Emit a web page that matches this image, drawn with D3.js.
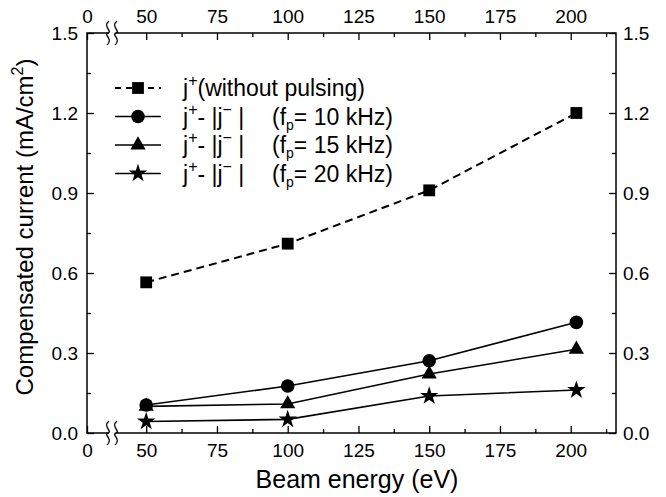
<!DOCTYPE html>
<html>
<head>
<meta charset="utf-8">
<script src="https://cdn.jsdelivr.net/npm/d3@7"></script>
<style>
  body { margin: 0; background: #fff; }
  text { font-family: "Liberation Sans", Arial, sans-serif; fill: #000; }
</style>
</head>
<body>
<svg width="666" height="497"></svg>
<script>
// data
var energy = [50, 100, 150, 202];
var noPulse = [0.565, 0.71, 0.91, 1.20];
var f10 = [0.105, 0.176, 0.271, 0.415];
var f15 = [0.10, 0.109, 0.221, 0.314];
var f20 = [0.043, 0.051, 0.139, 0.161];

var xMajor = [0, 50, 75, 100, 125, 150, 175, 200];
var xMinor = [62.5, 87.5, 112.5, 137.5, 162.5, 187.5, 212.5];
var yMajor = [0, 0.3, 0.6, 0.9, 1.2, 1.5];
var yMinor = [0.15, 0.45, 0.75, 1.05, 1.35];

var series = [
  {values: noPulse, symbol: d3.symbolSquare, size: 140, dash: "8,5", fp: null},
  {values: f10, symbol: d3.symbolCircle, size: 145, dash: null, fp: "10"},
  {values: f15, symbol: d3.symbolTriangle, size: 100, dash: null, fp: "15"},
  {values: f20, symbol: d3.symbolStar, size: 105, dash: null, fp: "20"}
];

var svg = d3.select("svg");
var pLeft = 87, pRight = 616, pTop = 33, pBottom = 433;

// broken x axis: 0..50 compressed
var x = d3.scaleLinear().domain([0, 50, 216]).range([pLeft, 146.2, pRight]);
var y = d3.scaleLinear().domain([0, 1.5]).range([pBottom, pTop]);

var fmtY = d3.format(".1f");

function axisStyle(g) {
  g.select(".domain").remove();
  g.selectAll("line").attr("stroke", "#000").attr("stroke-width", 1.3);
  g.selectAll("text").style("font-size", "19px");
}

// major ticks
svg.append("g").attr("transform", "translate(0," + pBottom + ")")
  .call(d3.axisBottom(x).tickValues(xMajor).tickSizeInner(-7).tickSizeOuter(0).tickPadding(11))
  .call(axisStyle);
svg.append("g").attr("transform", "translate(0," + pTop + ")")
  .call(d3.axisTop(x).tickValues(xMajor).tickSizeInner(-7).tickSizeOuter(0).tickPadding(10))
  .call(axisStyle);
svg.append("g").attr("transform", "translate(" + pLeft + ",0)")
  .call(d3.axisLeft(y).tickValues(yMajor).tickFormat(fmtY).tickSizeInner(-7).tickSizeOuter(0).tickPadding(9))
  .call(axisStyle);
svg.append("g").attr("transform", "translate(" + pRight + ",0)")
  .call(d3.axisRight(y).tickValues(yMajor).tickFormat(fmtY).tickSizeInner(-7).tickSizeOuter(0).tickPadding(7))
  .call(axisStyle);

// minor ticks
svg.append("g").attr("transform", "translate(0," + pBottom + ")")
  .call(d3.axisBottom(x).tickValues(xMinor).tickSizeInner(-4).tickSizeOuter(0).tickFormat(""))
  .call(axisStyle);
svg.append("g").attr("transform", "translate(0," + pTop + ")")
  .call(d3.axisTop(x).tickValues(xMinor).tickSizeInner(-4).tickSizeOuter(0).tickFormat(""))
  .call(axisStyle);
svg.append("g").attr("transform", "translate(" + pLeft + ",0)")
  .call(d3.axisLeft(y).tickValues(yMinor).tickSizeInner(-4).tickSizeOuter(0).tickFormat(""))
  .call(axisStyle);
svg.append("g").attr("transform", "translate(" + pRight + ",0)")
  .call(d3.axisRight(y).tickValues(yMinor).tickSizeInner(-4).tickSizeOuter(0).tickFormat(""))
  .call(axisStyle);

// frame
svg.append("rect")
  .attr("x", pLeft).attr("y", pTop)
  .attr("width", pRight - pLeft).attr("height", pBottom - pTop)
  .attr("fill", "none").attr("stroke", "#000").attr("stroke-width", 1.5);

// axis break marks
[pTop, pBottom].forEach(function(yy) {
  svg.append("rect").attr("x", 109).attr("y", yy - 3).attr("width", 7).attr("height", 6).attr("fill", "#fff");
  [108, 116].forEach(function(xx) {
    svg.append("path")
      .attr("d", "M" + (xx + 1) + "," + (yy - 12) + " C" + (xx - 6) + "," + (yy - 6) + " " + (xx + 5) + "," + (yy - 2) + " " + xx + "," + yy +
                 " C" + (xx - 5) + "," + (yy + 2) + " " + (xx + 6) + "," + (yy + 6) + " " + (xx - 1) + "," + (yy + 12))
      .attr("fill", "none").attr("stroke", "#000").attr("stroke-width", 1.4);
  });
});

// lines and markers
var line = d3.line().x(function(d) { return x(d[0]); }).y(function(d) { return y(d[1]); });

series.forEach(function(s) {
  var pts = energy.map(function(e, i) { return [e, s.values[i]]; });
  svg.append("path").datum(pts)
    .attr("d", line)
    .attr("fill", "none").attr("stroke", "#000")
    .attr("stroke-width", s.dash ? 2 : 1.6)
    .attr("stroke-dasharray", s.dash);
  svg.append("g").selectAll("path").data(pts).enter().append("path")
    .attr("d", d3.symbol().type(s.symbol).size(s.size))
    .attr("transform", function(d) { return "translate(" + x(d[0]) + "," + y(d[1]) + ")"; })
    .attr("fill", "#000");
});

// legend
var legend = svg.append("g");
series.forEach(function(s, i) {
  var ly = 88 + i * 28.5;
  legend.append("line")
    .attr("x1", 115).attr("x2", 161).attr("y1", ly).attr("y2", ly)
    .attr("stroke", "#000").attr("stroke-width", s.dash ? 2 : 1.6)
    .attr("stroke-dasharray", s.dash ? "6,5" : null);
  legend.append("path")
    .attr("d", d3.symbol().type(s.symbol).size(s.size))
    .attr("transform", "translate(138," + ly + ")");
  var t = legend.append("text").attr("x", 183).attr("y", ly + 8).style("font-size", "23px");
  t.append("tspan").text("j");
  t.append("tspan").attr("dy", -10).style("font-size", "16px").text("+");
  if (s.fp === null) {
    t.append("tspan").attr("dy", 10).text("(without pulsing)");
  } else {
    t.append("tspan").attr("dy", 10).text("- |j");
    t.append("tspan").attr("dy", -10).style("font-size", "16px").text("\u2212");
    t.append("tspan").attr("dy", 10).text(" |");
    var t2 = legend.append("text").attr("x", 272).attr("y", ly + 8).style("font-size", "23px");
    t2.append("tspan").text("(f");
    t2.append("tspan").attr("dy", 5).style("font-size", "14px").text("p");
    t2.append("tspan").attr("dy", -5).text("= " + s.fp + " kHz)");
  }
});

// axis titles
svg.append("text")
  .attr("x", 357).attr("y", 488)
  .attr("text-anchor", "middle").style("font-size", "25px")
  .text("Beam energy (eV)");

var yt = svg.append("text")
  .attr("transform", "translate(33,227) rotate(-90)")
  .attr("text-anchor", "middle").style("font-size", "24px");
yt.append("tspan").text("Compensated current (mA/cm");
yt.append("tspan").attr("dy", -10).style("font-size", "16px").text("2");
yt.append("tspan").attr("dy", 10).text(")");
</script>
</body>
</html>
